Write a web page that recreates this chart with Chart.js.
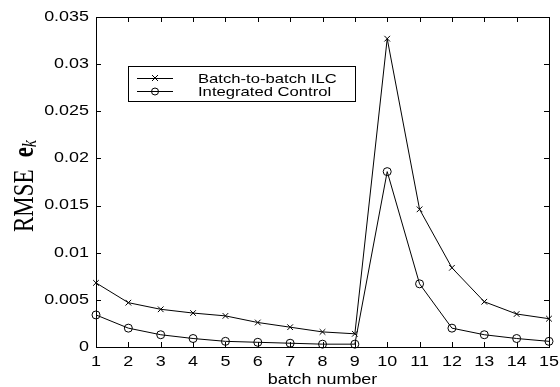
<!DOCTYPE html>
<html>
<head>
<meta charset="utf-8">
<script src="https://cdn.jsdelivr.net/npm/chart.js@4.4.1/dist/chart.umd.min.js"></script>
<style>
    html, body { margin: 0; padding: 0; background: #fff; }
    #wrap { width: 560px; height: 387px; }
</style>
</head>
<body>
<div id="wrap"><canvas id="rmse-chart" width="560" height="387"></canvas></div>
<script>
const batches = [1, 2, 3, 4, 5, 6, 7, 8, 9, 10, 11, 12, 13, 14, 15];
const ilcRmse = [0.0068, 0.0047, 0.0040, 0.0036, 0.0033, 0.0026, 0.0021, 0.0016, 0.0014, 0.0327, 0.0146, 0.0084, 0.0048, 0.0035, 0.0030];
const integratedRmse = [0.0034, 0.0020, 0.0013, 0.0009, 0.0006, 0.0005, 0.0004, 0.0003, 0.0003, 0.0186, 0.0067, 0.0020, 0.0013, 0.0009, 0.0006];
const yTicks = [0, 0.005, 0.01, 0.015, 0.02, 0.025, 0.03, 0.035];
const yTickLabels = ['0', '0.005', '0.01', '0.015', '0.02', '0.025', '0.03', '0.035'];
const seriesNames = ['Batch-to-batch ILC', 'Integrated Control'];

// the original figure is stretched sideways, so text is drawn wider than normal
const SX = 1.28;

function wideText(ctx, text, x, y, align) {
    ctx.save();
    ctx.translate(x, y);
    ctx.scale(SX, 1);
    ctx.textAlign = align;
    ctx.fillText(text, 0, 0);
    ctx.restore();
}

function toPoints(values) {
    return batches.map((b, i) => ({ x: b, y: values[i] }));
}

const matlabFrame = {
    id: 'matlabFrame',
    afterDatasetsDraw(chart) {
        const ctx = chart.ctx;
        const area = chart.chartArea;
        const xs = chart.scales.x;
        const ys = chart.scales.y;
        ctx.save();
        ctx.strokeStyle = '#000';
        ctx.fillStyle = '#000';
        ctx.lineWidth = 1;

        // axes box
        ctx.strokeRect(area.left + 0.5, area.top + 0.5, area.right - area.left, area.bottom - area.top);

        // inward ticks on all four sides
        ctx.beginPath();
        batches.forEach(b => {
            const px = Math.round(xs.getPixelForValue(b)) + 0.5;
            ctx.moveTo(px, area.bottom); ctx.lineTo(px, area.bottom - 5);
            ctx.moveTo(px, area.top); ctx.lineTo(px, area.top + 5);
        });
        yTicks.forEach(v => {
            const py = Math.round(ys.getPixelForValue(v)) + 0.5;
            ctx.moveTo(area.left, py); ctx.lineTo(area.left + 5, py);
            ctx.moveTo(area.right, py); ctx.lineTo(area.right - 5, py);
        });
        ctx.stroke();

        // tick labels
        ctx.font = '14px "Liberation Sans", Arial, sans-serif';
        ctx.textBaseline = 'middle';
        batches.forEach(b => {
            wideText(ctx, String(b), xs.getPixelForValue(b), area.bottom + 15, 'center');
        });
        yTicks.forEach((v, i) => {
            wideText(ctx, yTickLabels[i], area.left - 7, ys.getPixelForValue(v), 'right');
        });

        // x axis title
        ctx.font = '14px "Liberation Sans", Arial, sans-serif';
        wideText(ctx, 'batch number', (area.left + area.right) / 2, 380, 'center');

        // y axis title: RMSE  e_k
        ctx.save();
        ctx.translate(33, 186);
        ctx.rotate(-Math.PI / 2);
        ctx.scale(1, SX);
        ctx.textBaseline = 'alphabetic';
        ctx.textAlign = 'left';
        const f1 = '23px "Liberation Serif", "Times New Roman", serif';
        const f2 = 'bold 23px "Liberation Serif", "Times New Roman", serif';
        const f3 = 'italic 16px "Liberation Serif", "Times New Roman", serif';
        ctx.font = f1; const w1 = ctx.measureText('RMSE').width;
        ctx.font = f2; const w2 = ctx.measureText('e').width;
        ctx.font = f3; const w3 = ctx.measureText('k').width;
        const gap = 12;
        let cx = -(w1 + gap + w2 + w3) / 2;
        ctx.font = f1; ctx.fillText('RMSE', cx, 0); cx += w1 + gap;
        ctx.font = f2; ctx.fillText('e', cx, 0); cx += w2;
        ctx.font = f3; ctx.fillText('k', cx, 2);
        ctx.restore();

        // legend box
        const lx = 128, ly = 66, lw = 227, lh = 35;
        ctx.fillStyle = '#fff';
        ctx.fillRect(lx, ly, lw, lh);
        ctx.strokeRect(lx + 0.5, ly + 0.5, lw, lh);
        ctx.fillStyle = '#000';
        const rows = [78, 91];
        ctx.beginPath();
        rows.forEach(ry => {
            ctx.moveTo(137, ry + 0.5); ctx.lineTo(173, ry + 0.5);
        });
        ctx.stroke();
        // cross marker
        ctx.beginPath();
        ctx.moveTo(152, rows[0] - 3); ctx.lineTo(158, rows[0] + 3);
        ctx.moveTo(158, rows[0] - 3); ctx.lineTo(152, rows[0] + 3);
        ctx.stroke();
        // circle marker
        ctx.beginPath();
        ctx.arc(155, rows[1] + 0.5, 3.5, 0, Math.PI * 2);
        ctx.stroke();
        ctx.font = '13px "Liberation Sans", Arial, sans-serif';
        ctx.textBaseline = 'middle';
        seriesNames.forEach((name, i) => {
            wideText(ctx, name, 198, rows[i] + 1, 'left');
        });
        ctx.restore();
    }
};

window.onload = function () {
    const ctx = document.getElementById('rmse-chart').getContext('2d');
    new Chart(ctx, {
        type: 'line',
        data: {
            datasets: [{
                label: seriesNames[0],
                data: toPoints(ilcRmse),
                borderColor: '#000',
                borderWidth: 1,
                pointStyle: 'crossRot',
                pointRadius: 4,
                pointBorderColor: '#000',
                pointBorderWidth: 1,
                backgroundColor: 'transparent',
                tension: 0,
                clip: false
            }, {
                label: seriesNames[1],
                data: toPoints(integratedRmse),
                borderColor: '#000',
                borderWidth: 1,
                pointStyle: 'circle',
                pointRadius: 4,
                pointBorderColor: '#000',
                pointBorderWidth: 1,
                pointBackgroundColor: 'transparent',
                backgroundColor: 'transparent',
                tension: 0,
                clip: false
            }]
        },
        options: {
            responsive: false,
            animation: false,
            layout: {
                padding: { left: 96, right: 11, top: 17, bottom: 40 }
            },
            plugins: {
                legend: { display: false },
                tooltip: { enabled: false }
            },
            scales: {
                x: { type: 'linear', min: 1, max: 15, display: false },
                y: { type: 'linear', min: 0, max: 0.035, display: false }
            }
        },
        plugins: [matlabFrame]
    });
};
</script>
</body>
</html>
